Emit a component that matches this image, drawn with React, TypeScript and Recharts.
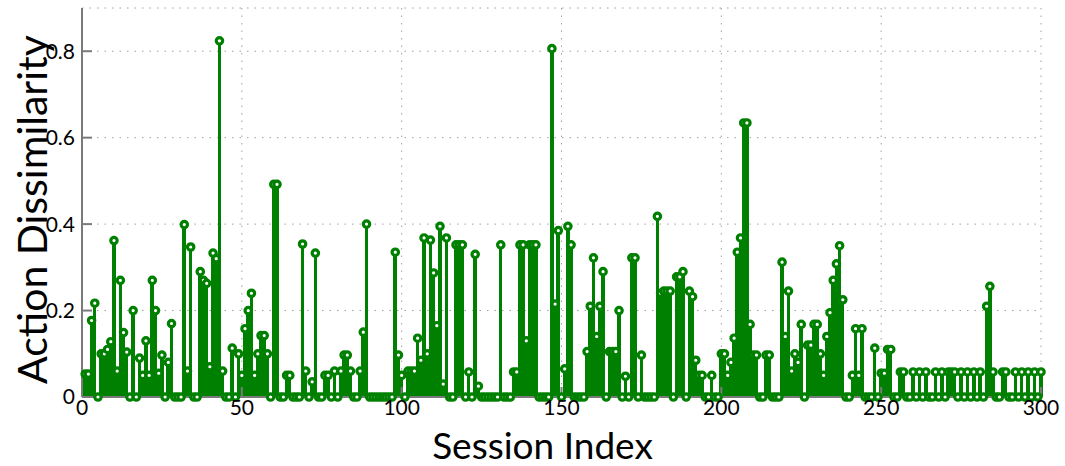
import { Bar, CartesianGrid, ComposedChart, ReferenceLine, Scatter, XAxis, YAxis } from "recharts";

// action dissimilarity per session, sessions 1..300
const values: number[] = [
  0.053, 0.053, 0.177, 0.217, 0, 0.1, 0.1, 0.11, 0.128, 0.362,
  0.06, 0.27, 0.149, 0.104, 0, 0.2, 0, 0.09, 0.05, 0.13,
  0.05, 0.27, 0.2, 0.055, 0.097, 0, 0.08, 0.17, 0, 0,
  0, 0.399, 0.06, 0.347, 0, 0, 0.29, 0.27, 0.263, 0.07,
  0.333, 0.32, 0.824, 0.06, 0, 0, 0.113, 0, 0.1, 0.05,
  0.158, 0.2, 0.24, 0.05, 0.1, 0.142, 0.142, 0.1, 0, 0.492,
  0.492, 0, 0, 0.05, 0.05, 0, 0, 0, 0.354, 0.06,
  0, 0.035, 0.333, 0, 0, 0.05, 0.05, 0, 0.06, 0,
  0.06, 0.097, 0.097, 0.06, 0, 0, 0.06, 0.15, 0.4, 0,
  0, 0, 0, 0, 0, 0, 0, 0.335, 0.097, 0.05,
  0, 0.06, 0.06, 0.06, 0.136, 0.085, 0.368, 0.1, 0.363, 0.287,
  0.165, 0.395, 0.03, 0.368, 0, 0, 0.352, 0.352, 0.352, 0,
  0.058, 0, 0.33, 0.025, 0, 0, 0, 0, 0, 0,
  0.352, 0, 0, 0, 0.058, 0.058, 0.352, 0.352, 0.13, 0.352,
  0.352, 0.352, 0, 0, 0, 0, 0.806, 0.215, 0.385, 0,
  0.065, 0.395, 0.352, 0, 0, 0, 0, 0.105, 0.21, 0.322,
  0.14, 0.21, 0.29, 0, 0.105, 0.105, 0.105, 0.2, 0, 0.048,
  0, 0.322, 0.322, 0, 0.097, 0, 0, 0, 0, 0.418,
  0.24, 0.245, 0.245, 0.245, 0, 0.278, 0.278, 0.29, 0, 0.245,
  0.232, 0.085, 0.05, 0.05, 0, 0, 0.05, 0, 0, 0.1,
  0.1, 0.05, 0.08, 0.136, 0.335, 0.368, 0.634, 0.634, 0.168, 0.097,
  0.097, 0, 0, 0.097, 0.097, 0, 0, 0, 0.312, 0.14,
  0.245, 0.06, 0.1, 0.08, 0.168, 0, 0.12, 0.12, 0.168, 0.168,
  0.1, 0.05, 0.14, 0.195, 0.27, 0.308, 0.35, 0.225, 0, 0,
  0.05, 0.158, 0.05, 0.158, 0, 0, 0, 0.113, 0, 0.055,
  0.055, 0.11, 0.11, 0, 0, 0.058, 0.058, 0, 0, 0.058,
  0, 0.058, 0, 0.058, 0, 0, 0.058, 0, 0.058, 0,
  0.058, 0.058, 0.058, 0, 0.058, 0, 0.058, 0, 0.058, 0,
  0.058, 0, 0.21, 0.256, 0.058, 0, 0, 0.058, 0.058, 0,
  0, 0.058, 0, 0.058, 0, 0.058, 0, 0.058, 0, 0.058,
];

const xTicks = [0, 50, 100, 150, 200, 250, 300];
const yTicks = [0, 0.2, 0.4, 0.6, 0.8];

const data = values.map((v, i) => ({ session: i + 1, value: v }));

const GREEN = "#008000";
const FRAME = "#7a7a7a";
const FONT = "Lato, 'Open Sans', sans-serif";

function Stem(props: any) {
  const { x, y, width, height } = props;
  const cx = x + width / 2;
  return (
    <line
      x1={cx}
      x2={cx}
      y1={y}
      y2={y + height}
      stroke={GREEN}
      strokeWidth={3.5}
      shapeRendering="crispEdges"
    />
  );
}

function Head(props: any) {
  const { cx, cy } = props;
  return <circle cx={cx} cy={cy} r={3.2} fill="#fff" stroke={GREEN} strokeWidth={3.2} />;
}

export default function App() {
  return (
    <div style={{ position: "absolute", left: 0, top: 0, background: "#fff" }}>
      <ComposedChart
        width={1065}
        height={466}
        data={data}
        margin={{ top: 8, right: 24, bottom: 0, left: 0 }}
        style={{ fontFamily: FONT }}
      >
        <CartesianGrid stroke="#a0a0a0" strokeDasharray="1.5 6" />
        <XAxis
          dataKey="session"
          type="number"
          domain={[0, 300]}
          ticks={xTicks}
          height={69}
          tickSize={-10}
          tickMargin={13}
          tick={{ fontSize: 21, fill: "#000" }}
          axisLine={{ stroke: FRAME, strokeWidth: 2 }}
          tickLine={{ stroke: FRAME, strokeWidth: 2 }}
          label={{ value: "Session Index", position: "insideBottom", offset: 7, dx: -19, style: { fontSize: 37, fill: "#000" } }}
        />
        <XAxis
          xAxisId="top"
          orientation="top"
          type="number"
          domain={[0, 300]}
          ticks={xTicks}
          height={0}
          tick={false}
          tickSize={-10}
          axisLine={{ stroke: FRAME, strokeWidth: 2 }}
          tickLine={{ stroke: FRAME, strokeWidth: 2 }}
        />
        <YAxis
          type="number"
          domain={[0, 0.9]}
          ticks={yTicks}
          width={82}
          tickSize={-10}
          tickMargin={17}
          tickFormatter={(v: number) => (v === 0 ? "0" : v.toFixed(1))}
          tick={{ fontSize: 21, fill: "#000" }}
          axisLine={{ stroke: FRAME, strokeWidth: 2 }}
          tickLine={{ stroke: FRAME, strokeWidth: 2 }}
          label={{
            value: "Action Dissimilarity",
            angle: -90,
            position: "center",
            dx: -9,
            dy: 7,
            style: { fontSize: 41, fill: "#000" },
          }}
        />
        <YAxis
          yAxisId="right"
          orientation="right"
          type="number"
          domain={[0, 0.9]}
          ticks={yTicks}
          width={0}
          tick={false}
          tickSize={-10}
          axisLine={{ stroke: FRAME, strokeWidth: 2 }}
          tickLine={{ stroke: FRAME, strokeWidth: 2 }}
        />
        <ReferenceLine y={0} stroke="#1f3d1f" strokeWidth={2} />
        <Bar dataKey="value" barSize={3} shape={<Stem />} isAnimationActive={false} />
        <Scatter dataKey="value" shape={<Head />} isAnimationActive={false} />
      </ComposedChart>
    </div>
  );
}
